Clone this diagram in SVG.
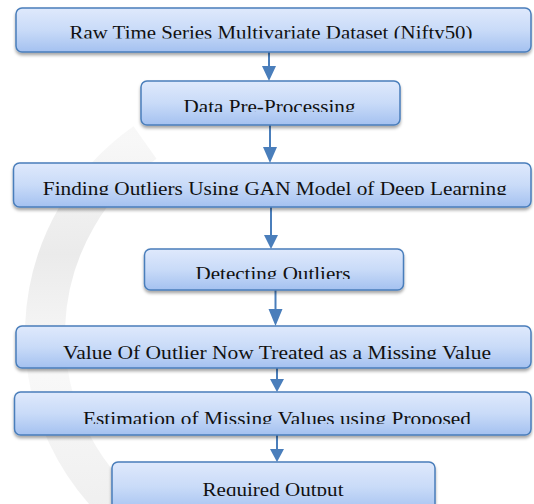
<svg xmlns="http://www.w3.org/2000/svg" width="534" height="504" viewBox="0 0 534 504">
<style>
.box{fill:url(#g);stroke:#4a7ebb;stroke-width:1.5;filter:url(#sh)}
.t{font-family:"Liberation Serif","Times New Roman",serif;font-size:19.5px;fill:#111;text-anchor:middle}
.ln{stroke:#4a7ebb;stroke-width:2;fill:none}
.hd{fill:#4a7ebb}
</style>
<defs>
<linearGradient id="g" x1="0" y1="0" x2="0" y2="1">
<stop offset="0" stop-color="#dfe9fc"/>
<stop offset="0.5" stop-color="#c9dbf8"/>
<stop offset="1" stop-color="#a4c1f0"/>
</linearGradient>
<linearGradient id="wm" x1="0" y1="0" x2="0" y2="1">
<stop offset="0" stop-color="#f4f4f4"/>
<stop offset="0.3" stop-color="#e2e2e2"/>
<stop offset="0.6" stop-color="#f6f6f6"/>
<stop offset="1" stop-color="#e8e8e8"/>
</linearGradient>
<filter id="sh" x="-5%" y="-20%" width="110%" height="150%">
<feDropShadow dx="0" dy="2.5" stdDeviation="1.5" flood-color="#000" flood-opacity="0.35"/>
</filter>
<clipPath id="c1"><rect x="0" y="0" width="534" height="38.5"/></clipPath>
<clipPath id="c2"><rect x="0" y="0" width="534" height="112"/></clipPath>
<clipPath id="c3"><rect x="0" y="0" width="534" height="195"/></clipPath>
<clipPath id="c4"><rect x="0" y="0" width="534" height="279"/></clipPath>
<clipPath id="c5"><rect x="0" y="0" width="534" height="359"/></clipPath>
<clipPath id="c6"><rect x="0" y="0" width="534" height="424"/></clipPath>
<clipPath id="c7"><rect x="0" y="0" width="534" height="496"/></clipPath>
</defs>
<rect width="534" height="504" fill="#fff"/>
<g id="watermark" opacity="0.7">
<path d="M145,142.5 A235,235 0 0 0 129,515" fill="none" stroke="url(#wm)" stroke-width="40"/>
</g>
<g id="connectors">
<line class="ln" x1="269" y1="52" x2="269" y2="68"/><polygon class="hd" points="262,66 276,66 269,81"/>
<line class="ln" x1="270" y1="125" x2="270" y2="149"/><polygon class="hd" points="263,147 277,147 270,163"/>
<line class="ln" x1="271" y1="207" x2="271" y2="237"/><polygon class="hd" points="264,235 278,235 271,249"/>
<line class="ln" x1="275.5" y1="290" x2="275.5" y2="311"/><polygon class="hd" points="268.5,309 282.5,309 275.5,326"/>
<line class="ln" x1="277" y1="368" x2="277" y2="381"/><polygon class="hd" points="270,379 284,379 277,392"/>
<line class="ln" x1="277" y1="435" x2="277" y2="451"/><polygon class="hd" points="270,449 284,449 277,462"/>
</g>
<g id="n1"><rect class="box" x="16" y="8" width="515" height="44" rx="6"/><text class="t" x="271" y="39" textLength="403" lengthAdjust="spacingAndGlyphs" clip-path="url(#c1)">Raw Time Series Multivariate Dataset (Nifty50)</text></g>
<g id="n2"><rect class="box" x="141" y="81" width="259" height="44" rx="6"/><text class="t" x="269.5" y="113" textLength="172" lengthAdjust="spacingAndGlyphs" clip-path="url(#c2)">Data Pre-Processing</text></g>
<g id="n3"><rect class="box" x="13.5" y="163" width="517.5" height="44" rx="6"/><text class="t" x="274.8" y="195" textLength="464" lengthAdjust="spacingAndGlyphs" clip-path="url(#c3)">Finding Outliers Using GAN Model of Deep Learning</text></g>
<g id="n4"><rect class="box" x="144.5" y="249" width="259" height="41" rx="6"/><text class="t" x="273" y="280" textLength="155" lengthAdjust="spacingAndGlyphs" clip-path="url(#c4)">Detecting Outliers</text></g>
<g id="n5"><rect class="box" x="16" y="326" width="515" height="42" rx="6"/><text class="t" x="277" y="359" textLength="428" lengthAdjust="spacingAndGlyphs" clip-path="url(#c5)">Value Of Outlier Now Treated as a Missing Value</text></g>
<g id="n6"><rect class="box" x="14.5" y="392" width="516.5" height="43" rx="6"/><text class="t" x="277" y="424.5" textLength="388" lengthAdjust="spacingAndGlyphs" clip-path="url(#c6)">Estimation of Missing Values using Proposed</text></g>
<g id="n7"><rect class="box" x="112" y="462" width="323" height="50" rx="6"/><text class="t" x="273" y="495.5" textLength="141" lengthAdjust="spacingAndGlyphs" clip-path="url(#c7)">Required Output</text></g>
</svg>
